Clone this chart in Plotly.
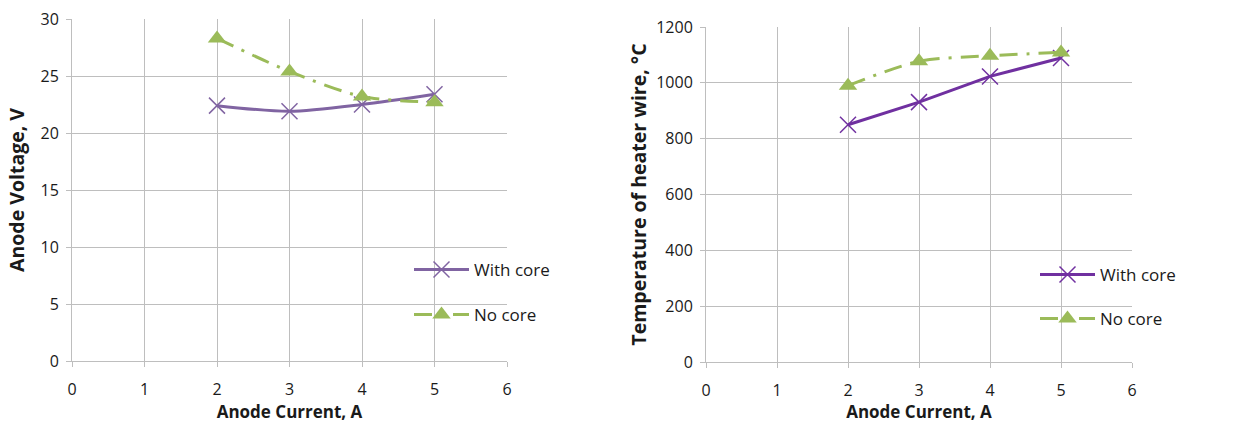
import plotly.graph_objects as go

current = [2, 3, 4, 5]
voltage_with_core = [22.4, 21.9, 22.5, 23.4]
voltage_no_core = [28.3, 25.4, 23.2, 22.7]
temp_with_core = [850, 931, 1023, 1089]
temp_no_core = [990, 1077, 1097, 1109]

x_ticks = [0, 1, 2, 3, 4, 5, 6]
v_ticks = [0, 5, 10, 15, 20, 25, 30]
t_ticks = [0, 200, 400, 600, 800, 1000, 1200]

GREEN = "#9BBB59"
PURPLE_L = "#8064A2"
PURPLE_R = "#7030A0"
MARK_P = "#9F8CC0"
GRID = "#BEBEBE"
FONT = "Open Sans"
TXT = "#1a1a1a"
DASH = "18px,9px,3px,9px"

fig = go.Figure()

fig.add_trace(go.Scatter(
    x=current, y=voltage_with_core, name="With core", mode="lines+markers",
    line=dict(color=PURPLE_L, width=3, shape="spline", smoothing=0.8),
    marker=dict(symbol="x-thin-open", size=16, line=dict(color=MARK_P, width=1.5)),
    xaxis="x", yaxis="y", legend="legend"))
fig.add_trace(go.Scatter(
    x=current, y=voltage_no_core, name="No core", mode="lines+markers",
    line=dict(color=GREEN, width=3, dash=DASH, shape="spline", smoothing=0.8),
    marker=dict(symbol="triangle-up", size=16, color=GREEN),
    xaxis="x", yaxis="y", legend="legend2"))

fig.add_trace(go.Scatter(
    x=current, y=temp_with_core, name="With core", mode="lines+markers",
    line=dict(color=PURPLE_R, width=3),
    marker=dict(symbol="x-thin-open", size=16, line=dict(color=MARK_P, width=1.5)),
    xaxis="x2", yaxis="y2", legend="legend3"))
fig.add_trace(go.Scatter(
    x=current, y=temp_no_core, name="No core", mode="lines+markers",
    line=dict(color=GREEN, width=3, dash=DASH, shape="spline", smoothing=0.8),
    marker=dict(symbol="triangle-up", size=16, color=GREEN),
    xaxis="x2", yaxis="y2", legend="legend4"))

W, H = 1235, 423
ML, MR, MT, MB = 72, W - 1132, 19, H - 362
PW, PH = W - ML - MR, H - MT - MB

def dx(p):
    return (p - ML) / PW
def dy(p):
    return (H - MB - p) / PH

axis_common = dict(
    showgrid=True, gridcolor=GRID, gridwidth=1,
    showline=True, linecolor=GRID, linewidth=1,
    ticks="outside", ticklen=5, tickcolor=GRID,
    zeroline=False, mirror=False, automargin=False,
    tickfont=dict(family=FONT, size=16, color=TXT),
)

def leg(xp, yp):
    return dict(x=dx(xp), y=dy(yp), xanchor="left", yanchor="middle",
                bgcolor="rgba(0,0,0,0)", font=dict(family=FONT, size=17, color=TXT),
                itemsizing="trace", itemwidth=55, borderwidth=0)

fig.update_layout(
    width=W, height=H,
    margin=dict(l=ML, r=MR, t=MT, b=MB, autoexpand=False),
    paper_bgcolor="white", plot_bgcolor="white",
    font=dict(family=FONT, color=TXT),
    xaxis=dict(domain=[dx(72), dx(507)], range=[0, 6], tickvals=x_ticks, anchor="y",
               ticklabelstandoff=9,
               title=dict(text="<b>Anode Current, A</b>", font=dict(size=17), standoff=8),
               **axis_common),
    yaxis=dict(domain=[dy(361), dy(19)], range=[0, 30], tickvals=v_ticks, anchor="x",
               ticklabelstandoff=4,
               title=dict(text="<b>Anode Voltage, V</b>", font=dict(size=19.5), standoff=10),
               **axis_common),
    xaxis2=dict(domain=[dx(706), dx(1132)], range=[0, 6], tickvals=x_ticks, anchor="y2",
                ticklabelstandoff=9,
                title=dict(text="<b>Anode Current, A</b>", font=dict(size=17), standoff=8),
                **axis_common),
    yaxis2=dict(domain=[dy(362), dy(27)], range=[0, 1200], tickvals=t_ticks, anchor="x2",
                ticklabelstandoff=4,
                title=dict(text="<b>Temperature of heater wire, °C</b>", font=dict(size=19.5), standoff=4),
                **axis_common),
    legend=leg(409, 270),
    legend2=leg(409, 315),
    legend3=leg(1035, 275),
    legend4=leg(1035, 319),
    showlegend=True,
)

fig.write_html("out.html", config={"displayModeBar": False},
               post_script="document.body.style.margin='0';")
